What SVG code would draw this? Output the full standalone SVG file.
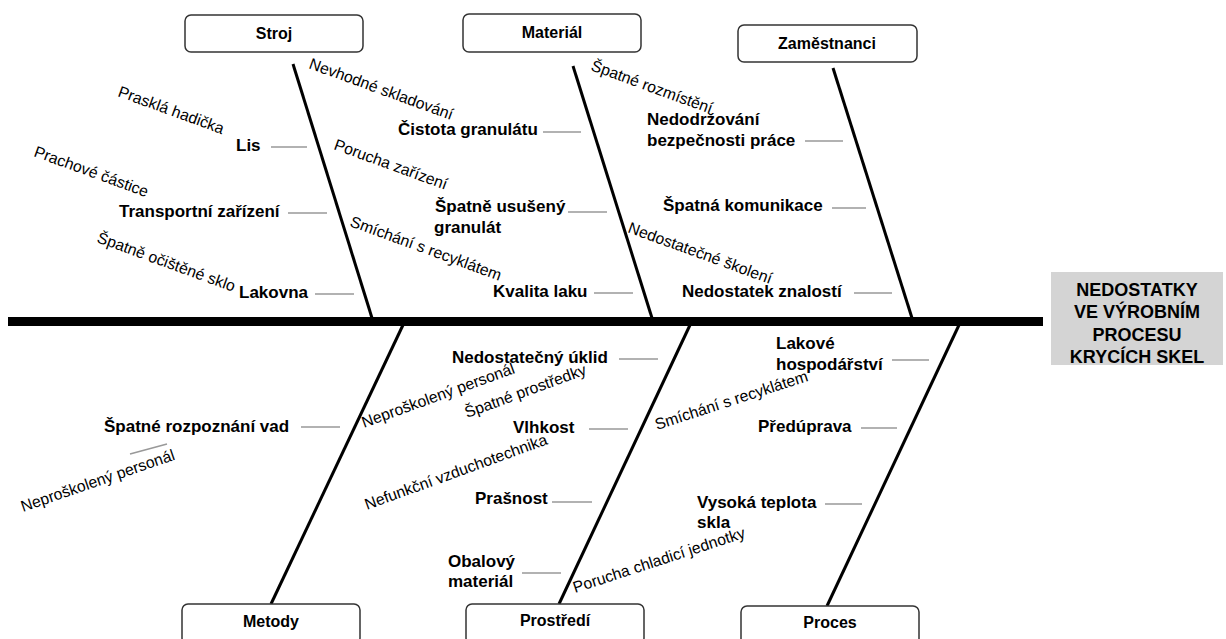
<svg xmlns="http://www.w3.org/2000/svg" width="1226" height="639" viewBox="0 0 1226 639">
<defs>
<style>
text{font-family:"Liberation Sans",Arial,sans-serif;fill:#000}
.box{fill:#fff;stroke:#333;stroke-width:1.5}
.bt{font-size:16px;font-weight:bold;text-anchor:middle}
.lb{font-size:17px;font-weight:bold}
.rt{font-size:15.8px}
.bone{stroke:#000;stroke-width:3;fill:none}
.sub{stroke:#999;stroke-width:1.5;fill:none}
.head{fill:#d4d4d4}
.ht{font-size:18px;font-weight:bold;text-anchor:middle}
</style>
</defs>
<rect width="1226" height="639" fill="#fff"/>
<g id="connectors">
<line x1="8" y1="321.5" x2="1043" y2="321.5" stroke="#000" stroke-width="9"/>
<line class="bone" x1="293" y1="64" x2="372" y2="318"/>
<line class="bone" x1="573" y1="66" x2="652" y2="318"/>
<line class="bone" x1="833" y1="68" x2="912" y2="318"/>
<line class="bone" x1="403" y1="325" x2="271" y2="604"/>
<line class="bone" x1="690" y1="325" x2="559" y2="604"/>
<line class="bone" x1="959" y1="325" x2="827" y2="606"/>
<line class="sub" x1="271" y1="147" x2="307" y2="147"/>
<line class="sub" x1="288" y1="213" x2="327" y2="213"/>
<line class="sub" x1="315" y1="294" x2="354" y2="294"/>
<line class="sub" x1="543" y1="132" x2="581" y2="132"/>
<line class="sub" x1="568" y1="212" x2="607" y2="212"/>
<line class="sub" x1="594" y1="293" x2="633" y2="293"/>
<line class="sub" x1="805" y1="141" x2="843" y2="141"/>
<line class="sub" x1="832" y1="208" x2="866" y2="208"/>
<line class="sub" x1="854" y1="293" x2="892" y2="293"/>
<line class="sub" x1="301" y1="427" x2="340" y2="427"/>
<line class="sub" x1="130" y1="454" x2="167" y2="444"/>
<line class="sub" x1="619" y1="359" x2="658" y2="359"/>
<line class="sub" x1="589" y1="429" x2="628" y2="429"/>
<line class="sub" x1="552" y1="502" x2="592" y2="502"/>
<line class="sub" x1="522" y1="573" x2="561" y2="573"/>
<line class="sub" x1="892" y1="360" x2="929" y2="360"/>
<line class="sub" x1="861" y1="428" x2="897" y2="428"/>
<line class="sub" x1="825" y1="504" x2="862" y2="504"/>
</g>
<g id="head">
<rect class="head" x="1051" y="272" width="172" height="93"/>
<text class="ht" x="1137" y="296">NEDOSTATKY</text>
<text class="ht" x="1137" y="318">VE VÝROBNÍM</text>
<text class="ht" x="1137" y="341">PROCESU</text>
<text class="ht" x="1137" y="363">KRYCÍCH SKEL</text>
</g>
<g id="stroj">
<rect class="box" x="185" y="15" width="178" height="37" rx="6"/>
<text class="bt" x="274" y="39">Stroj</text>
</g>
<g id="material">
<rect class="box" x="463" y="14" width="178" height="38" rx="6"/>
<text class="bt" x="552" y="38">Materiál</text>
</g>
<g id="zamestnanci">
<rect class="box" x="738" y="25" width="179" height="37" rx="6"/>
<text class="bt" x="827" y="49">Zaměstnanci</text>
</g>
<g id="metody">
<rect class="box" x="182" y="604" width="178" height="40" rx="6"/>
<text class="bt" x="271" y="627">Metody</text>
</g>
<g id="prostredi">
<rect class="box" x="466" y="604" width="178" height="40" rx="6"/>
<text class="bt" x="555" y="626">Prostředí</text>
</g>
<g id="proces">
<rect class="box" x="741" y="606" width="178" height="40" rx="6"/>
<text class="bt" x="830" y="628">Proces</text>
</g>
<g id="stroj-causes">
<text class="lb" x="236" y="151">Lis</text>
<text class="lb" x="119" y="217">Transportní zařízení</text>
<text class="lb" x="239" y="298">Lakovna</text>
<text class="rt" transform="translate(117,96) rotate(20)">Prasklá hadička</text>
<text class="rt" transform="translate(33,156) rotate(20)">Prachové částice</text>
<text class="rt" transform="translate(96,242) rotate(20)">Špatně očištěné sklo</text>
</g>
<g id="material-causes">
<text class="lb" x="398" y="135">Čistota granulátu</text>
<text class="lb" x="435" y="212">Špatně usušený</text>
<text class="lb" x="434" y="233">granulát</text>
<text class="lb" x="493" y="297">Kvalita laku</text>
<text class="rt" transform="translate(308,68) rotate(20)">Nevhodné skladování</text>
<text class="rt" transform="translate(333,149) rotate(20)">Porucha zařízení</text>
<text class="rt" transform="translate(349,226) rotate(20)">Smíchání s recyklátem</text>
</g>
<g id="zamestnanci-causes">
<text class="lb" x="647" y="125">Nedodržování</text>
<text class="lb" x="647" y="146">bezpečnosti práce</text>
<text class="lb" x="663" y="211">Špatná komunikace</text>
<text class="lb" x="682" y="297">Nedostatek znalostí</text>
<text class="rt" transform="translate(590,70) rotate(20)">Špatné rozmístění</text>
<text class="rt" transform="translate(627,232) rotate(20)">Nedostatečné školení</text>
</g>
<g id="metody-causes">
<text class="lb" x="104" y="432">Špatné rozpoznání vad</text>
<text class="rt" transform="translate(23,512) rotate(-19)">Neproškolený personál</text>
</g>
<g id="prostredi-causes">
<text class="lb" x="452" y="363">Nedostatečný úklid</text>
<text class="lb" x="513" y="433">Vlhkost</text>
<text class="lb" x="475" y="504">Prašnost</text>
<text class="lb" x="448" y="567">Obalový</text>
<text class="lb" x="448" y="587">materiál</text>
<text class="rt" transform="translate(364,428) rotate(-20)">Neproškolený personál</text>
<text class="rt" transform="translate(467,418) rotate(-20)">Špatné prostředky</text>
<text class="rt" transform="translate(367,510) rotate(-20)">Nefunkční vzduchotechnika</text>
</g>
<g id="proces-causes">
<text class="lb" x="776" y="349">Lakové</text>
<text class="lb" x="776" y="370">hospodářství</text>
<text class="lb" x="758" y="432">Předúprava</text>
<text class="lb" x="697" y="508">Vysoká teplota</text>
<text class="lb" x="697" y="528">skla</text>
<text class="rt" transform="translate(657,430) rotate(-18)">Smíchání s recyklátem</text>
<text class="rt" transform="translate(575,593) rotate(-18)">Porucha chladicí jednotky</text>
</g>
</svg>
